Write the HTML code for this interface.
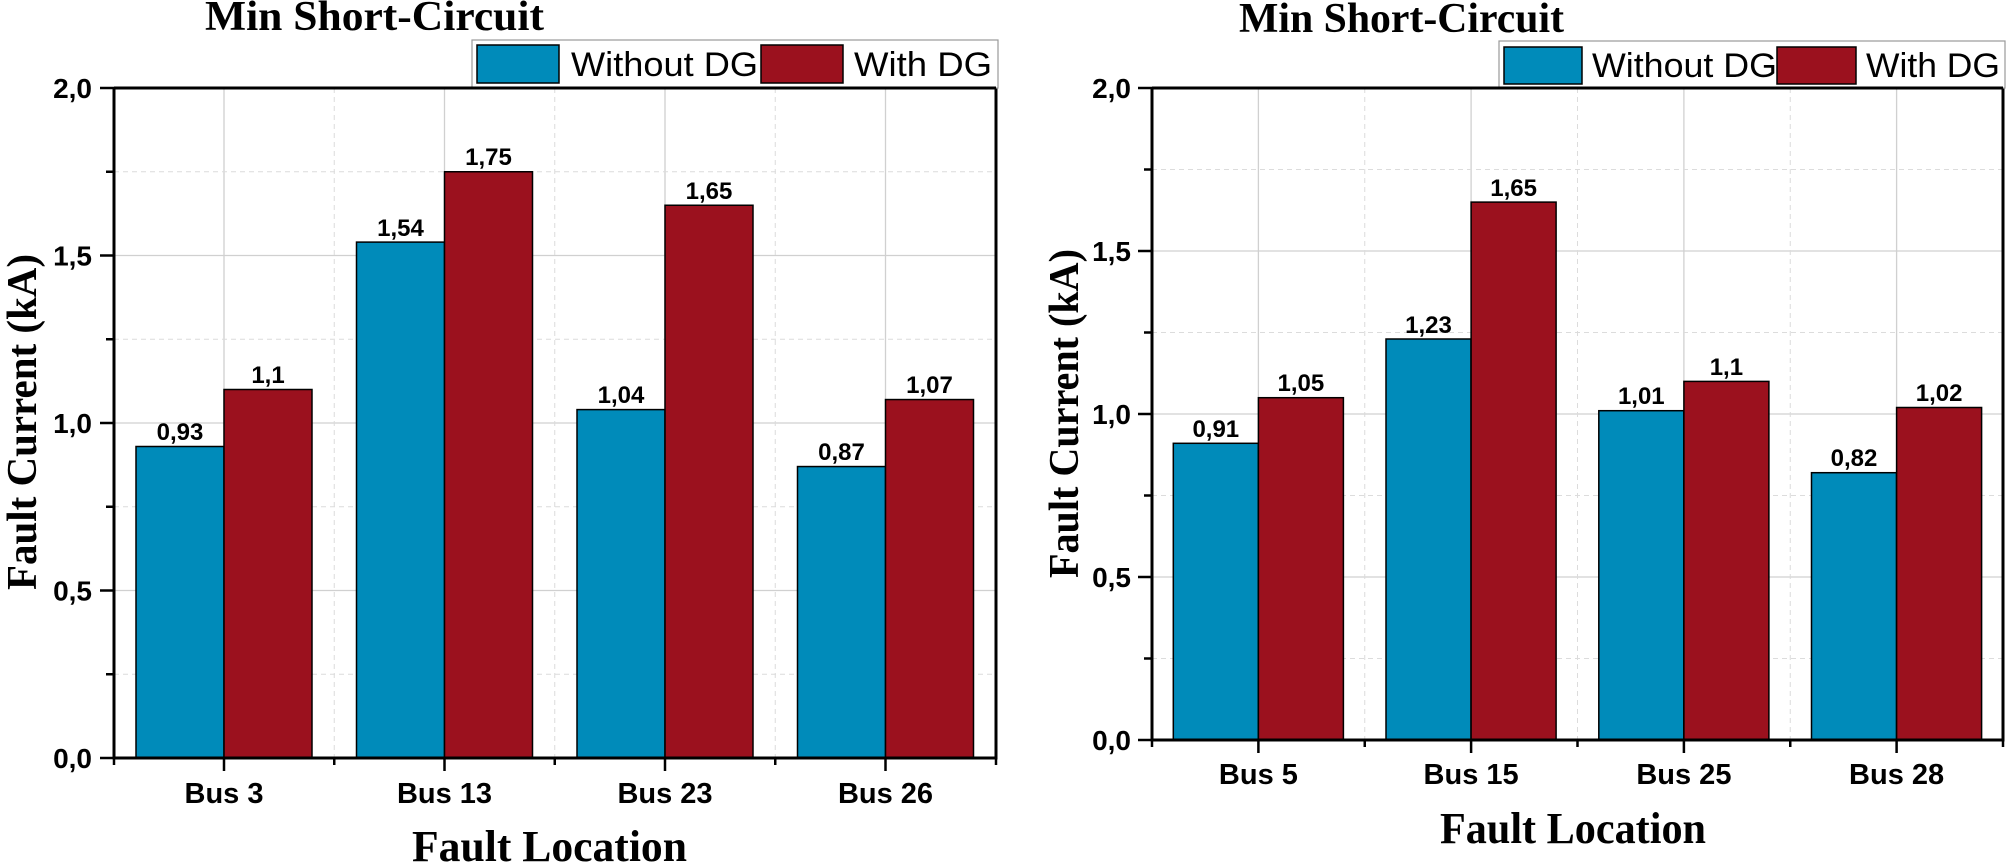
<!DOCTYPE html>
<html><head><meta charset="utf-8"><style>html,body{margin:0;padding:0;background:#fff}svg{display:block}</style></head><body>
<svg width="2007" height="865" xmlns="http://www.w3.org/2000/svg" font-family="Liberation Sans, Arial, sans-serif">
<!-- LEFT CHART -->
<g stroke="#d0d0d0" stroke-width="1.3">
<line x1="114" y1="590.5" x2="996" y2="590.5"/><line x1="114" y1="423" x2="996" y2="423"/><line x1="114" y1="255.5" x2="996" y2="255.5"/>
<line x1="224" y1="88" x2="224" y2="758"/><line x1="444.5" y1="88" x2="444.5" y2="758"/><line x1="665" y1="88" x2="665" y2="758"/><line x1="885.5" y1="88" x2="885.5" y2="758"/>
</g>
<g stroke="#dcdcdc" stroke-width="1" stroke-dasharray="5,4">
<line x1="114" y1="674.25" x2="996" y2="674.25"/><line x1="114" y1="506.75" x2="996" y2="506.75"/><line x1="114" y1="339.25" x2="996" y2="339.25"/><line x1="114" y1="171.75" x2="996" y2="171.75"/>
<line x1="334.25" y1="88" x2="334.25" y2="758"/><line x1="554.75" y1="88" x2="554.75" y2="758"/><line x1="775.25" y1="88" x2="775.25" y2="758"/>
</g>
<g stroke="#000" stroke-width="1.5">
<rect x="136" y="446.5" width="88" height="311.5" fill="#008bba"/><rect x="224" y="389.5" width="88" height="368.5" fill="#9b111e"/>
<rect x="356.5" y="242.1" width="88" height="515.9" fill="#008bba"/><rect x="444.5" y="171.75" width="88" height="586.25" fill="#9b111e"/>
<rect x="577" y="409.6" width="88" height="348.4" fill="#008bba"/><rect x="665" y="205.25" width="88" height="552.75" fill="#9b111e"/>
<rect x="797.5" y="466.55" width="88" height="291.45" fill="#008bba"/><rect x="885.5" y="399.55" width="88" height="358.45" fill="#9b111e"/>
</g>
<g font-size="24" font-weight="bold" text-anchor="middle">
<text x="180" y="440">0,93</text><text x="268" y="383">1,1</text>
<text x="400.5" y="236">1,54</text><text x="488.5" y="165">1,75</text>
<text x="621" y="403">1,04</text><text x="709" y="199">1,65</text>
<text x="841.5" y="460">0,87</text><text x="929.5" y="393">1,07</text>
</g>
<g fill="none" stroke="#000" stroke-width="3">
<path d="M114,88 V758 H996 V88 H114"/>
</g>
<g stroke="#000" stroke-width="2.5">
<line x1="100" y1="88" x2="114" y2="88"/><line x1="100" y1="255.5" x2="114" y2="255.5"/><line x1="100" y1="423" x2="114" y2="423"/><line x1="100" y1="590.5" x2="114" y2="590.5"/><line x1="100" y1="758" x2="114" y2="758"/>
<line x1="106" y1="171.75" x2="114" y2="171.75"/><line x1="106" y1="339.25" x2="114" y2="339.25"/><line x1="106" y1="506.75" x2="114" y2="506.75"/><line x1="106" y1="674.25" x2="114" y2="674.25"/>
<line x1="224" y1="758" x2="224" y2="771"/><line x1="444.5" y1="758" x2="444.5" y2="771"/><line x1="665" y1="758" x2="665" y2="771"/><line x1="885.5" y1="758" x2="885.5" y2="771"/>
<line x1="114" y1="758" x2="114" y2="765"/><line x1="334.25" y1="758" x2="334.25" y2="765"/><line x1="554.75" y1="758" x2="554.75" y2="765"/><line x1="775.25" y1="758" x2="775.25" y2="765"/><line x1="996" y1="758" x2="996" y2="765"/>
</g>
<g font-size="28" font-weight="bold" text-anchor="end">
<text x="92" y="98">2,0</text><text x="92" y="265.5">1,5</text><text x="92" y="433">1,0</text><text x="92" y="600.5">0,5</text><text x="92" y="768">0,0</text>
</g>
<g font-size="29" font-weight="bold" text-anchor="middle">
<text x="224" y="803">Bus 3</text><text x="444.5" y="803">Bus 13</text><text x="665" y="803">Bus 23</text><text x="885.5" y="803">Bus 26</text>
</g>
<text x="412" y="861" font-family="Liberation Serif, serif" font-size="44" font-weight="bold" textLength="275" lengthAdjust="spacingAndGlyphs">Fault Location</text>
<text transform="translate(36,590) rotate(-90)" font-family="Liberation Serif, serif" font-size="42" font-weight="bold" textLength="336" lengthAdjust="spacingAndGlyphs">Fault Current (kA)</text>
<text x="205" y="30" font-family="Liberation Serif, serif" font-size="42" font-weight="bold" textLength="339" lengthAdjust="spacingAndGlyphs">Min Short-Circuit</text>
<rect x="472" y="40" width="526" height="48" fill="#fff" stroke="#999" stroke-width="1.2"/>
<rect x="477" y="45" width="82" height="38" fill="#008bba" stroke="#000" stroke-width="1.5"/>
<rect x="761" y="45" width="82" height="38" fill="#9b111e" stroke="#000" stroke-width="1.5"/>
<text x="571" y="76" font-size="34" textLength="187" lengthAdjust="spacingAndGlyphs">Without DG</text>
<text x="854" y="76" font-size="34" textLength="138" lengthAdjust="spacingAndGlyphs">With DG</text>
<line x1="114" y1="88" x2="996" y2="88" stroke="#000" stroke-width="3"/>

<!-- RIGHT CHART -->
<g stroke="#d0d0d0" stroke-width="1.3">
<line x1="1152" y1="577" x2="2003" y2="577"/><line x1="1152" y1="414" x2="2003" y2="414"/><line x1="1152" y1="251" x2="2003" y2="251"/>
<line x1="1258.4" y1="88" x2="1258.4" y2="740"/><line x1="1471.1" y1="88" x2="1471.1" y2="740"/><line x1="1683.9" y1="88" x2="1683.9" y2="740"/><line x1="1896.6" y1="88" x2="1896.6" y2="740"/>
</g>
<g stroke="#dcdcdc" stroke-width="1" stroke-dasharray="5,4">
<line x1="1152" y1="658.5" x2="2003" y2="658.5"/><line x1="1152" y1="495.5" x2="2003" y2="495.5"/><line x1="1152" y1="332.5" x2="2003" y2="332.5"/><line x1="1152" y1="169.5" x2="2003" y2="169.5"/>
<line x1="1364.75" y1="88" x2="1364.75" y2="740"/><line x1="1577.5" y1="88" x2="1577.5" y2="740"/><line x1="1790.25" y1="88" x2="1790.25" y2="740"/>
</g>
<g stroke="#000" stroke-width="1.5">
<rect x="1173.3" y="443.3" width="85" height="296.7" fill="#008bba"/><rect x="1258.4" y="397.7" width="85" height="342.3" fill="#9b111e"/>
<rect x="1386" y="339" width="85" height="401" fill="#008bba"/><rect x="1471.1" y="202.1" width="85" height="537.9" fill="#9b111e"/>
<rect x="1598.8" y="410.7" width="85" height="329.3" fill="#008bba"/><rect x="1683.9" y="381.4" width="85" height="358.6" fill="#9b111e"/>
<rect x="1811.5" y="472.7" width="85" height="267.3" fill="#008bba"/><rect x="1896.6" y="407.5" width="85" height="332.5" fill="#9b111e"/>
</g>
<g font-size="24" font-weight="bold" text-anchor="middle">
<text x="1215.8" y="437">0,91</text><text x="1300.9" y="391">1,05</text>
<text x="1428.5" y="333">1,23</text><text x="1513.6" y="196">1,65</text>
<text x="1641.3" y="404">1,01</text><text x="1726.4" y="375">1,1</text>
<text x="1854" y="466">0,82</text><text x="1939.1" y="401">1,02</text>
</g>
<g fill="none" stroke="#000" stroke-width="3">
<path d="M1152,88 V740 H2003 V88 H1152"/>
</g>
<g stroke="#000" stroke-width="2.5">
<line x1="1138" y1="88" x2="1152" y2="88"/><line x1="1138" y1="251" x2="1152" y2="251"/><line x1="1138" y1="414" x2="1152" y2="414"/><line x1="1138" y1="577" x2="1152" y2="577"/><line x1="1138" y1="740" x2="1152" y2="740"/>
<line x1="1144" y1="169.5" x2="1152" y2="169.5"/><line x1="1144" y1="332.5" x2="1152" y2="332.5"/><line x1="1144" y1="495.5" x2="1152" y2="495.5"/><line x1="1144" y1="658.5" x2="1152" y2="658.5"/>
<line x1="1258.4" y1="740" x2="1258.4" y2="753"/><line x1="1471.1" y1="740" x2="1471.1" y2="753"/><line x1="1683.9" y1="740" x2="1683.9" y2="753"/><line x1="1896.6" y1="740" x2="1896.6" y2="753"/>
<line x1="1152" y1="740" x2="1152" y2="747"/><line x1="1364.75" y1="740" x2="1364.75" y2="747"/><line x1="1577.5" y1="740" x2="1577.5" y2="747"/><line x1="1790.25" y1="740" x2="1790.25" y2="747"/><line x1="2003" y1="740" x2="2003" y2="747"/>
</g>
<g font-size="28" font-weight="bold" text-anchor="end">
<text x="1131" y="98">2,0</text><text x="1131" y="261">1,5</text><text x="1131" y="424">1,0</text><text x="1131" y="587">0,5</text><text x="1131" y="750">0,0</text>
</g>
<g font-size="29" font-weight="bold" text-anchor="middle">
<text x="1258.4" y="784">Bus 5</text><text x="1471.1" y="784">Bus 15</text><text x="1683.9" y="784">Bus 25</text><text x="1896.6" y="784">Bus 28</text>
</g>
<text x="1440" y="843" font-family="Liberation Serif, serif" font-size="44" font-weight="bold" textLength="266" lengthAdjust="spacingAndGlyphs">Fault Location</text>
<text transform="translate(1078,578) rotate(-90)" font-family="Liberation Serif, serif" font-size="42" font-weight="bold" textLength="329" lengthAdjust="spacingAndGlyphs">Fault Current (kA)</text>
<text x="1239" y="32" font-family="Liberation Serif, serif" font-size="42" font-weight="bold" textLength="325" lengthAdjust="spacingAndGlyphs">Min Short-Circuit</text>
<rect x="1499" y="41" width="506" height="47" fill="#fff" stroke="#999" stroke-width="1.2"/>
<rect x="1504" y="47" width="78" height="37" fill="#008bba" stroke="#000" stroke-width="1.5"/>
<rect x="1777" y="47" width="79" height="37" fill="#9b111e" stroke="#000" stroke-width="1.5"/>
<text x="1592" y="77" font-size="34" textLength="185" lengthAdjust="spacingAndGlyphs">Without DG</text>
<text x="1866" y="77" font-size="34" textLength="134" lengthAdjust="spacingAndGlyphs">With DG</text>
<line x1="1152" y1="88" x2="2003" y2="88" stroke="#000" stroke-width="3"/>
</svg>
</body></html>
